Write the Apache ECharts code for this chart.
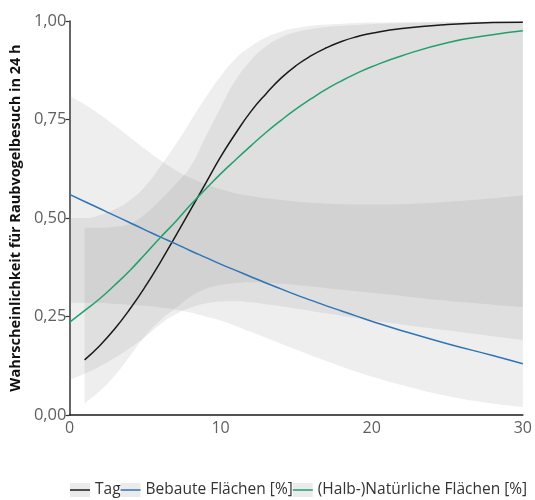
<!DOCTYPE html>
<html><head><meta charset="utf-8">
<script src="https://cdn.jsdelivr.net/npm/echarts@6/dist/echarts.min.js"></script>
<style>html,body{margin:0;padding:0;background:#fff}#c{width:535px;height:500px}</style>
</head><body><div id="c"></div>
<script>
// x positions (percent / day)
const xs    = [0,1,2,3,4,5,6,7,8,9,10,11,12,13,14,15,16,17,18,19,20,22,25,28,30];
const xsTag = [1,2,3,4,5,6,7,8,9,10,11,12,13,14,15,16,17,18,19,20,22,25,28,30];

// Tag
const tagMean  = [0.14,0.176,0.219,0.269,0.325,0.387,0.453,0.52,0.587,0.655,0.715,0.77,0.815,0.855,0.887,0.912,0.932,0.948,0.96,0.969,0.981,0.991,0.996,0.997];
const tagUpper = [0.475,0.475,0.478,0.485,0.51,0.545,0.585,0.63,0.705,0.78,0.85,0.9,0.935,0.958,0.972,0.98,0.985,0.988,0.99,0.992,0.994,0.996,0.997,0.998];
const tagLower = [0.03,0.06,0.1,0.15,0.2,0.24,0.27,0.3,0.32,0.33,0.335,0.337,0.335,0.333,0.33,0.326,0.322,0.318,0.314,0.31,0.302,0.29,0.28,0.274];

// Bebaute Flächen
const bebMean  = [0.56,0.542,0.524,0.506,0.488,0.47,0.452,0.435,0.417,0.4,0.383,0.367,0.351,0.335,0.32,0.305,0.291,0.277,0.264,0.251,0.238,0.214,0.181,0.151,0.13];
const bebUpper = [0.81,0.788,0.763,0.735,0.705,0.675,0.647,0.622,0.602,0.586,0.573,0.563,0.556,0.55,0.546,0.542,0.539,0.537,0.535,0.534,0.534,0.535,0.541,0.55,0.558];
const bebLower = [0.285,0.285,0.284,0.282,0.28,0.277,0.273,0.268,0.26,0.25,0.24,0.226,0.211,0.196,0.181,0.166,0.151,0.137,0.123,0.11,0.098,0.076,0.048,0.029,0.02];

// (Halb-)Natürliche Flächen
const natMean  = [0.235,0.265,0.295,0.33,0.367,0.408,0.45,0.49,0.533,0.573,0.612,0.648,0.683,0.717,0.748,0.777,0.803,0.827,0.848,0.867,0.884,0.912,0.945,0.965,0.975];
const natUpper = [0.5,0.5,0.507,0.522,0.545,0.58,0.63,0.685,0.745,0.805,0.86,0.905,0.935,0.958,0.973,0.982,0.988,0.991,0.993,0.995,0.996,0.997,0.998,0.999,0.999];
const natLower = [0.09,0.105,0.123,0.145,0.17,0.198,0.23,0.255,0.272,0.283,0.288,0.289,0.286,0.281,0.276,0.27,0.264,0.258,0.252,0.246,0.24,0.23,0.215,0.2,0.19];

const names = ['Tag','Bebaute Flächen [%]','(Halb-)Natürliche Flächen [%]'];
const colors = ['#1a1a1a','#2E75B6','#22A06B'];
const xTicks = [0,10,20,30];
const yTickLabels = ['0,00','0,25','0,50','0,75','1,00'];
const yTitle = 'Wahrscheinlichkeit für Raubvogelbesuch in 24 h';

const FONT = 'Open Sans';
const pairs = (x, y) => x.map((v,i) => [v, y[i]]);
// band data stored as [yValue, xValue] so that the stacked dimension is the y value
const yx = (x, y) => x.map((v,i) => [y[i], v]);
const yxDiff = (x, lo, up) => x.map((v,i) => [+(up[i]-lo[i]).toFixed(4), v]);

function band(id, x, lo, up) {
  return [
    {name: id+'_lo', type:'line', stack: id, data: yx(x, lo), encode:{x:1, y:0}, smooth: true, symbol:'none',
     lineStyle:{opacity:0}, silent:true, z:1},
    {name: id+'_band', type:'line', stack: id, data: yxDiff(x, lo, up), encode:{x:1, y:0}, smooth: true, symbol:'none',
     lineStyle:{opacity:0}, areaStyle:{color:'rgba(128,128,128,0.135)', opacity:1}, silent:true, z:1}
  ];
}

const series = [
  ...band('beb', xs, bebLower, bebUpper),
  ...band('nat', xs, natLower, natUpper),
  ...band('tag', xsTag, tagLower, tagUpper),
  {name: names[0], type:'line', data: pairs(xsTag, tagMean), smooth:true, symbol:'none', lineStyle:{color:colors[0], width:1.5}, itemStyle:{color:colors[0]}, z:3},
  {name: names[1], type:'line', data: pairs(xs, bebMean), smooth:true, symbol:'none', lineStyle:{color:colors[1], width:1.5}, itemStyle:{color:colors[1]}, z:3},
  {name: names[2], type:'line', data: pairs(xs, natMean), smooth:true, symbol:'none', lineStyle:{color:colors[2], width:1.5}, itemStyle:{color:colors[2]}, z:3}
];

const LINE_ICON = 'path://M0,0M0,6.25H20V7.75H0ZM20,14';
const legendCommon = {
  bottom: 2, left: 70, width: 465, padding: 0, orient:'horizontal', itemWidth: 20, itemHeight: 14, itemGap: 0,
  selectedMode: false,
  textStyle: {fontFamily: FONT, fontSize: 15.5, color:'#333'}
};

const chart = echarts.init(document.getElementById('c'), null, {renderer:'canvas'});
chart.setOption({
  animation: false,
  backgroundColor: '#fff',
  grid: {left: 67, right: 10, top: 21, bottom: 85, containLabel: false},
  xAxis: {
    type:'value', min: 0, max: 30, interval: 10,
    axisLine: {show:true, onZero:false, lineStyle:{color:'#1a1a1a', width:1.5}},
    axisTick: {show:false},
    splitLine: {show:false},
    axisLabel: {fontFamily: FONT, fontSize: 16, color:'#606060', margin: 5,
      formatter: v => xTicks.includes(v) ? String(v) : ''}
  },
  yAxis: {
    type:'value', min: 0, max: 1, interval: 0.25,
    name: yTitle, nameLocation:'middle', nameGap: 44,
    nameTextStyle: {fontFamily: FONT, fontSize: 14.5, fontWeight:'bold', color:'#111'},
    axisLine: {show:true, lineStyle:{color:'#333', width:1.5}},
    axisTick: {show:true, length:4, lineStyle:{color:'#333', width:1.2}},
    splitLine: {show:false},
    axisLabel: {fontFamily: FONT, fontSize: 16.5, color:'#606060', margin: 3,
      formatter: v => yTickLabels[Math.round(v/0.25)]}
  },
  legend: [
    Object.assign({}, legendCommon, {
      z: 4,
      data: names.map(n => ({name:n, icon:'rect', itemStyle:{color:'#ebebeb', borderWidth:0}})),
      textStyle: Object.assign({}, legendCommon.textStyle, {color:'rgba(0,0,0,0)'})
    }),
    Object.assign({}, legendCommon, {
      z: 5,
      data: names.map((n,i) => ({name:n, icon: LINE_ICON, itemStyle:{color:colors[i], borderWidth:0}}))
    })
  ],
  series
});
</script>
</body></html>
